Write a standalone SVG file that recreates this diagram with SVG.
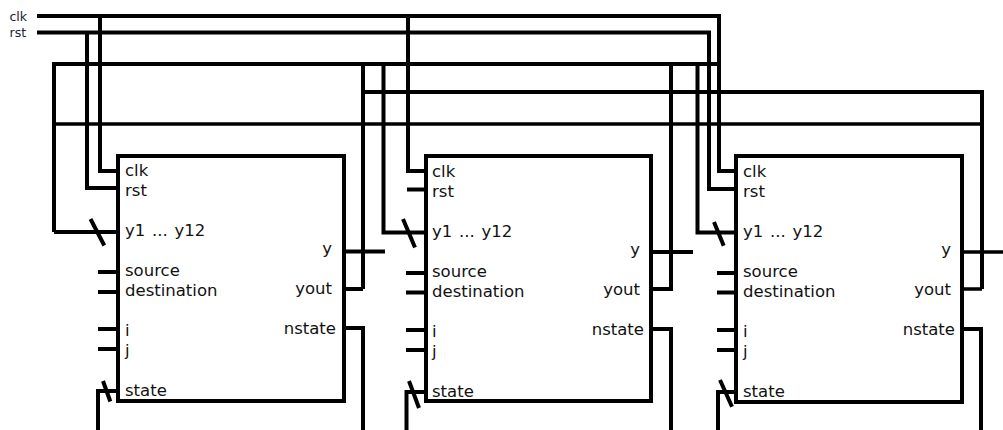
<svg xmlns="http://www.w3.org/2000/svg" width="1003" height="430" viewBox="0 0 1003 430">
<style>
.w{fill:none;stroke:#000;stroke-width:4}
.t{stroke-width:3.5}
.b{fill:none;stroke:#000;stroke-width:4}
text{font-family:"DejaVu Sans",sans-serif;font-size:16.5px;fill:#111;word-spacing:1.5px}
.s{font-size:12.5px;fill:#223}
.e{text-anchor:end}
</style>
<rect width="1003" height="430" fill="#fff"/>
<g id="connectors">
<path class="w" d="M37 16H719V171H736M100 16V171H118M408 16V171H426"/>
<path class="w" d="M37 32.500H709V189H736M87 32.500V188H118M407 189.500H426"/>
<path class="w" d="M54 232V64H718M54 232H118M383.500 64V232.500H426M671 64V289H651M697.500 64V232.500H736M363 289H344M363 64V289"/>
<path class="w t" d="M54 124H982M982 289H962M962 252H1003"/>
<path class="w" d="M363 92H982V289"/>
<path class="w" d="M344 251.500H385M651 252H693"/>
<path class="w" d="M344 328H363V430M651 329H671V430M962 329H981V430"/>
<path class="w" d="M98 272H118M98 292H118M98 329H118M98 349H118M98 430V391H118"/>
<path class="w" d="M406 273H426M406 292.500H426M406 330H426M406 350H426M406.500 430V392H426"/>
<path class="w" d="M717 273H736M717 292.500H736M717 330H736M717 350H736M718 430V392H736"/>
<path class="w" d="M90.500 219L104.300 245.500M103 381L110.300 401.500M403 219L415 247.500M409 381L419 408M714 222L723.700 245.700M720 380L732 406.700"/>
</g>
<g id="inputs"><text class="s" x="9.500" y="21">clk</text><text class="s" x="9.500" y="37">rst</text></g>
<g id="node1">
<rect class="b" x="118" y="156" width="226" height="245"/>
<text x="125" y="176">clk</text><text x="125" y="196">rst</text><text x="125" y="236">y1 ... y12</text><text x="125" y="276">source</text><text x="125" y="296">destination</text><text x="125" y="336">i</text><text x="125" y="356">j</text><text x="125" y="396">state</text>
<text class="e" x="332" y="254">y</text><text class="e" x="332" y="294">yout</text><text class="e" x="336" y="334">nstate</text>
</g>
<g id="node2">
<rect class="b" x="426" y="156" width="225" height="245"/>
<text x="432" y="177">clk</text><text x="432" y="197">rst</text><text x="432" y="237">y1 ... y12</text><text x="432" y="277">source</text><text x="432" y="297">destination</text><text x="432" y="337">i</text><text x="432" y="357">j</text><text x="432" y="397">state</text>
<text class="e" x="640" y="255">y</text><text class="e" x="640" y="295">yout</text><text class="e" x="644" y="335">nstate</text>
</g>
<g id="node3">
<rect class="b" x="736" y="156" width="226" height="246"/>
<text x="743" y="177">clk</text><text x="743" y="197">rst</text><text x="743" y="237">y1 ... y12</text><text x="743" y="277">source</text><text x="743" y="297">destination</text><text x="743" y="337">i</text><text x="743" y="357">j</text><text x="743" y="397">state</text>
<text class="e" x="951" y="255">y</text><text class="e" x="951" y="295">yout</text><text class="e" x="955" y="335">nstate</text>
</g>
</svg>
